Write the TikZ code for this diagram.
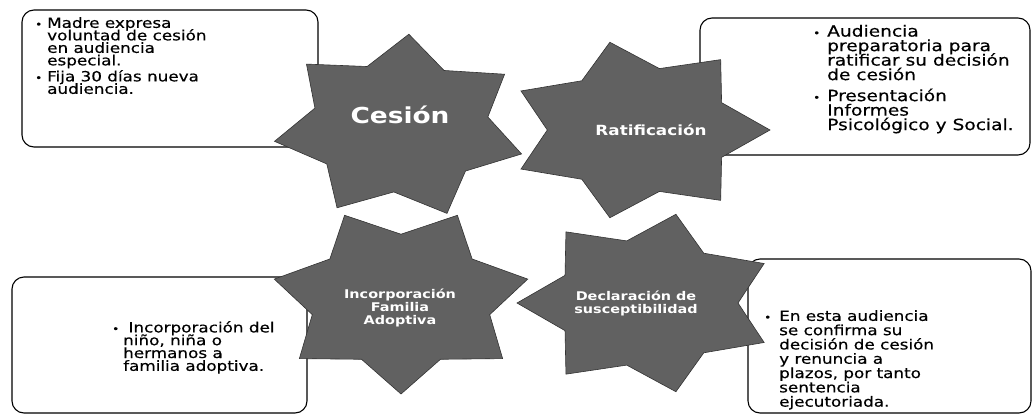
\documentclass[tikz,border=0pt]{standalone}
\usepackage{fontspec}
\setmainfont{DejaVu Sans}
\newfontfamily\cajafont[FakeStretch=1.2, FakeBold=0.4]{DejaVu Sans}
\newfontfamily\rotulofont[FakeStretch=1.2]{DejaVu Sans}
\newcommand{\vineta}[1]{\makebox[#1][l]{\fontsize{10}{10}\selectfont •}}
\newcommand{\apretado}{\lineskiplimit=-20pt\lineskip=0pt}
% estrella de 7 puntas: centro x, centro y, radio x, radio y, angulo de la primera punta
\newcommand{\estrella}[5]{%
  \draw[estrella] plot[samples at={0,...,13}, variable=\k]
    ({#1+(0.85+0.15*cos(180*\k))*#3*cos(#5+\k*180/7)},
     {#2-(0.85+0.15*cos(180*\k))*#4*sin(#5+\k*180/7)}) -- cycle;}
\begin{document}
\begin{tikzpicture}[x=1pt, y=-1pt,
        caja/.style = {draw, line width=1.1pt, rounded corners=12pt, fill=white, inner sep=0pt},
        texto/.style = {anchor=north west, inner sep=0pt, align=left, font=\cajafont\fontsize{14}{12.5}\selectfont\apretado},
        estrella/.style = {fill=black!62, draw=black!80, line width=0.6pt},
        rotulo/.style = {text=white, align=center, inner sep=0pt, font=\rotulofont\bfseries\fontsize{#1}{13}\selectfont\apretado}]
    \path[fill=white, use as bounding box] (0,0) rectangle (1032,415);
    % cajas
    \node[caja, minimum width=296pt, minimum height=137pt] (cajaCesion) at (170,78.5) {};
    \node[caja, minimum width=330pt, minimum height=137pt] (cajaRatificacion) at (865,86.5) {};
    \node[caja, minimum width=295pt, minimum height=136pt] (cajaIncorporacion) at (159.5,345) {};
    \node[caja, minimum width=283pt, minimum height=154pt] (cajaDeclaracion) at (889.5,336) {};
    % estrellas
    \estrella{400}{127}{127}{93}{86}
    \estrella{639}{130}{131}{90}{0}
    \estrella{401}{300}{130}{94}{-90}
    \estrella{647}{303}{130}{91}{180}
    \node[rotulo=22] (cesion) at (400,115) {Cesión};
    \node[rotulo=14] (ratificacion) at (651,130) {Ratificación};
    \node[rotulo=12] (incorporacion) at (400,308) {Incorporación\\Familia\\Adoptiva};
    \node[rotulo=12] (declaracion) at (636,303) {Declaración de\\susceptibilidad};
    % textos
    \node[texto] (tCesion) at (35,17) {\vineta{12pt}Madre expresa\\
        \hspace*{12pt}voluntad de cesión\\
        \hspace*{12pt}en audiencia\\
        \hspace*{12pt}especial.\\[3.5pt]
        \vineta{12pt}Fija 30 días nueva\\
        \hspace*{12pt}audiencia.};
    \node[texto, font=\cajafont\fontsize{15.5}{14.5}\selectfont\apretado] (tRatificacion) at (813,24.6) {\vineta{14pt}Audiencia\\
        \hspace*{14pt}preparatoria para\\
        \hspace*{14pt}ratificar su decisión\\
        \hspace*{14pt}de cesión\\[6.5pt]
        \vineta{14pt}Presentación\\
        \hspace*{14pt}Informes\\
        \hspace*{14pt}Psicológico y Social.};
    \node[texto, font=\cajafont\fontsize{14}{12.8}\selectfont\apretado] (tIncorporacion) at (112,321) {\vineta{11pt} Incorporación del\\
        \hspace*{11pt}niño, niña o\\
        \hspace*{11pt}hermanos a\\
        \hspace*{11pt}familia adoptiva.};
    \node[texto, font=\cajafont\fontsize{14}{14.3}\selectfont\apretado] (tDeclaracion) at (764,310) {\vineta{15pt}En esta audiencia\\
        \hspace*{15pt}se confirma su\\
        \hspace*{15pt}decisión de cesión\\
        \hspace*{15pt}y renuncia a\\
        \hspace*{15pt}plazos, por tanto\\
        \hspace*{15pt}sentencia\\
        \hspace*{15pt}ejecutoriada.};
\end{tikzpicture}
\end{document}
